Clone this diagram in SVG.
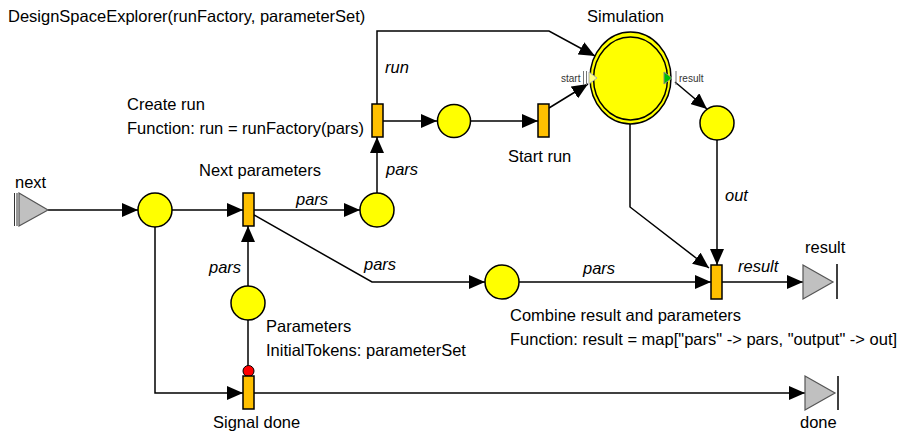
<svg xmlns="http://www.w3.org/2000/svg" width="900" height="437" viewBox="0 0 900 437">
  <style>
    text { font-family: "Liberation Sans", Arial, sans-serif; font-size: 16.5px; fill: #000; }
    .it { font-style: italic; }
    .small { font-size: 10px; fill: #333; }
    .place { fill: #ffff00; stroke: #000; stroke-width: 1.5; }
    .trans { fill: #ffc000; stroke: #000; stroke-width: 1.5; }
    .port { fill: #c0c0c0; stroke: #555; stroke-width: 1.2; }
    .bar { stroke: #000; stroke-width: 1.5; fill: none; }
    .wire { fill: none; stroke: #000; stroke-width: 1.5; }
    .arr { marker-end: url(#head); }
  </style>
  <defs>
    <marker id="head" markerUnits="userSpaceOnUse" markerWidth="16" markerHeight="14" refX="16" refY="7" orient="auto">
      <path d="M0,0 L16,7 L0,14 z" fill="#000"/>
    </marker>
  </defs>
  <rect width="900" height="437" fill="#fff"/>

  <text x="8" y="22">DesignSpaceExplorer(runFactory, parameterSet)</text>

  <!-- connectors -->
  <g id="connectors">
    <path class="wire arr" d="M48,210 L138,210"/>
    <path class="wire arr" d="M172,210 L243,210"/>
    <path class="wire arr" d="M254,210 L360,210"/>
    <path class="wire arr" d="M377,193 L377,137"/>
    <path class="wire arr" d="M377,104 L377,31 L549,31 L595,56"/>
    <path class="wire arr" d="M383,121 L437,121"/>
    <path class="wire arr" d="M471,121 L538,121"/>
    <path class="wire arr" d="M549,108 L588,84"/>
    <path class="wire arr" d="M675,82 L707,109"/>
    <path class="wire arr" d="M717,140 L717,265"/>
    <path class="wire arr" d="M630,124 L630,207 L709,268"/>
    <path class="wire arr" d="M254,215 L372,282 L485,282"/>
    <path class="wire arr" d="M519,282 L711,282"/>
    <path class="wire arr" d="M722,282 L803,282"/>
    <path class="wire arr" d="M248,286 L248,226"/>
    <path class="wire" d="M248,320 L248,366"/>
    <path class="wire arr" d="M155,227 L155,393 L243,393"/>
    <path class="wire arr" d="M254,393 L805,393"/>
    <circle cx="248.5" cy="371" r="5.5" fill="#ff0000" stroke="#000" stroke-width="1"/>

    <text class="it" x="385" y="73">run</text>
    <text class="it" x="296" y="205">pars</text>
    <text class="it" x="386" y="175">pars</text>
    <text class="it" x="209" y="273">pars</text>
    <text class="it" x="364" y="270">pars</text>
    <text class="it" x="583" y="274">pars</text>
    <text class="it" x="725" y="201">out</text>
    <text class="it" x="738" y="272">result</text>
  </g>

  <!-- input port: next -->
  <g id="next">
    <line x1="14.5" y1="193" x2="14.5" y2="226" stroke="#333" stroke-width="1"/>
    <line x1="17" y1="193" x2="17" y2="226" stroke="#333" stroke-width="1"/>
    <polygon class="port" points="19,193 48,210 19,226"/>
    <text x="15" y="188">next</text>
  </g>

  <g id="p-loop">
    <circle class="place" cx="155" cy="210" r="17"/>
  </g>

  <g id="next-parameters">
    <rect class="trans" x="243" y="193" width="11" height="33"/>
    <text x="199" y="176">Next parameters</text>
  </g>

  <g id="p-pars">
    <circle class="place" cx="377" cy="210" r="17"/>
  </g>

  <g id="create-run">
    <rect class="trans" x="372" y="104" width="11" height="33"/>
    <text x="127" y="110">Create run</text>
    <text x="127" y="134">Function: run = runFactory(pars)</text>
  </g>

  <g id="p-run">
    <circle class="place" cx="454" cy="121" r="16.5"/>
  </g>

  <g id="start-run">
    <rect class="trans" x="538" y="104" width="11" height="33"/>
    <text x="508" y="162">Start run</text>
  </g>

  <g id="simulation">
    <ellipse class="place" cx="630.5" cy="78" rx="40.5" ry="46"/>
    <ellipse cx="630.5" cy="78.5" rx="37" ry="41.5" fill="none" stroke="#000" stroke-width="1.5"/>
    <text x="587" y="22">Simulation</text>
    <line x1="583.5" y1="71" x2="583.5" y2="85" stroke="#777" stroke-width="1"/>
    <line x1="586.5" y1="71" x2="586.5" y2="85" stroke="#777" stroke-width="1"/>
    <polygon points="589,72 597,78 589,84" fill="#ffff80" stroke="#aaa" stroke-width="1"/>
    <text class="small" x="561" y="82">start</text>
    <polygon points="664,72 672,78 664,84" fill="#00c000" stroke="#888" stroke-width="1"/>
    <line x1="676" y1="71" x2="676" y2="85" stroke="#777" stroke-width="1"/>
    <text class="small" x="679" y="82">result</text>
  </g>

  <g id="p-out">
    <circle class="place" cx="717" cy="123" r="17"/>
  </g>

  <g id="p-pars-copy">
    <circle class="place" cx="502" cy="282" r="17"/>
  </g>

  <g id="combine">
    <rect class="trans" x="711" y="265" width="11" height="34"/>
    <text x="510" y="321">Combine result and parameters</text>
    <text x="510" y="345">Function: result = map["pars" -&gt; pars, "output" -&gt; out]</text>
  </g>

  <g id="result">
    <polygon class="port" points="803,265 833,282 803,299"/>
    <line class="bar" x1="837" y1="264" x2="837" y2="299"/>
    <text x="805" y="253">result</text>
  </g>

  <g id="parameters">
    <circle class="place" cx="248" cy="303" r="17"/>
    <text x="266" y="332">Parameters</text>
    <text x="266" y="356">InitialTokens: parameterSet</text>
  </g>

  <g id="signal-done">
    <rect class="trans" x="243" y="376" width="11" height="33"/>
    <text x="213" y="428">Signal done</text>
  </g>

  <g id="done">
    <polygon class="port" points="805,376 835,393 805,410"/>
    <line class="bar" x1="838" y1="376" x2="838" y2="410"/>
    <text x="800" y="428">done</text>
  </g>
</svg>
